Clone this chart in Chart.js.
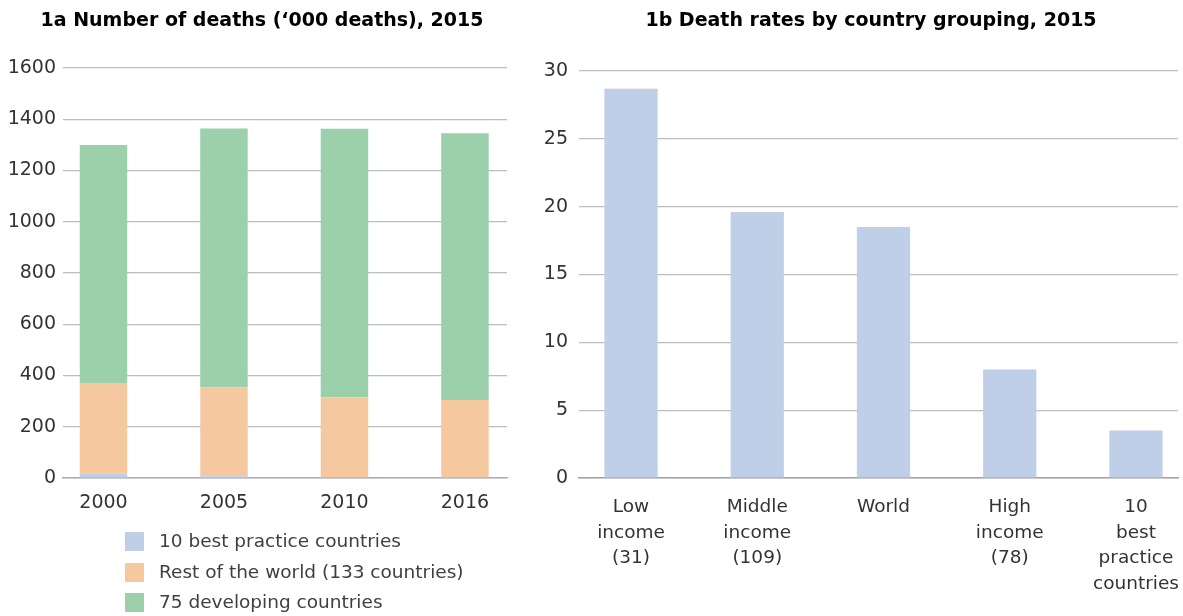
<!DOCTYPE html>
<html>
<head>
<meta charset="utf-8">
<script src="https://cdn.jsdelivr.net/npm/chart.js@4/dist/chart.umd.min.js"></script>
<style>
  html, body { margin: 0; padding: 0; background: #ffffff; }
  #wrap { position: relative; width: 1183px; height: 616px; overflow: hidden; }
  #c1 { position: absolute; left: 0; top: 0; }
  #c2 { position: absolute; left: 520px; top: 0; }
  #legend { position: absolute; left: 125px; top: 526px; font-family: "DejaVu Sans", sans-serif; font-size: 18.5px; color: #404040; }
  .li { position: relative; height: 30.5px; line-height: 30.5px; white-space: nowrap; }
  .sw { position: absolute; left: 0; top: 6px; width: 19px; height: 19px; }
  .tx { position: absolute; left: 34px; top: 0; }
</style>
</head>
<body>
<div id="wrap">
  <canvas id="c1" width="520" height="616"></canvas>
  <canvas id="c2" width="663" height="616"></canvas>
  <div id="legend"></div>
</div>
<script>
// ---- Data ----
const years = ["2000", "2005", "2010", "2016"];
const bestPractice = [17, 7, 3, 3];          // 10 best practice countries
const restOfWorld = [354, 347, 311, 301];     // Rest of the world (133 countries)
const developing = [929, 1010, 1049, 1041];   // 75 developing countries
const seriesNames = ["10 best practice countries", "Rest of the world (133 countries)", "75 developing countries"];
const deathTicks = [0, 200, 400, 600, 800, 1000, 1200, 1400, 1600];

const groups = [
  ["Low", "income", "(31)"],
  ["Middle", "income", "(109)"],
  ["World"],
  ["High", "income", "(78)"],
  ["10", "best", "practice", "countries"]
];
const deathRates = [28.7, 19.6, 18.5, 8.0, 3.5];
const rateTicks = [0, 5, 10, 15, 20, 25, 30];

// ---- Styles ----
const FONT = "DejaVu Sans";
const TXT = "#333333";
const GRID = "#bdbdbd";
const C_BLUE = "#bfcfe7";
const C_ORANGE = "#f6c8a0";
const C_GREEN = "#9bd0ab";

Chart.defaults.font.family = FONT;
Chart.defaults.color = TXT;
Chart.defaults.animation = false;

// Moves the title box horizontally (title centred between given left and the chart area's right)
const titleBox = {
  id: "titleBox",
  afterLayout(chart, args, opts) {
    if (chart.titleBlock && opts.left !== undefined) {
      chart.titleBlock.left = opts.left;
      chart.titleBlock.right = chart.chartArea.right;
    }
  }
};

const toXY = arr => arr.map((v, i) => ({ x: i, y: v }));
const onlyIdx = scale => { scale.ticks = scale.ticks.filter(t => Number.isInteger(t.value)); };
const xFit = s => { s.height = 138; s.paddingLeft = 0; s.paddingRight = 0; };

// ---- Chart 1a ----
const chart1 = new Chart(document.getElementById("c1"), {
  type: "bar",
  plugins: [titleBox],
  data: {
    datasets: [
      { label: seriesNames[0], data: toXY(bestPractice), backgroundColor: C_BLUE },
      { label: seriesNames[1], data: toXY(restOfWorld), backgroundColor: C_ORANGE },
      { label: seriesNames[2], data: toXY(developing), backgroundColor: C_GREEN }
    ]
  },
  options: {
    responsive: false,
    layout: { padding: { left: 0, right: 13, top: 0, bottom: 0 } },
    datasets: { bar: { categoryPercentage: 1, barPercentage: 0.394 } },
    plugins: {
      titleBox: { left: 17 },
      legend: { display: false },
      tooltip: { enabled: false },
      title: {
        display: true,
        text: "1a Number of deaths (\u2018000 deaths), 2015",
        font: { family: FONT, size: 19, weight: "bold", lineHeight: 1.2 },
        color: "#000000",
        padding: { top: 10, bottom: 35.2 }
      }
    },
    scales: {
      x: {
        type: "linear",
        offset: false,
        stacked: true,
        min: -0.336,
        max: 3.349,
        afterBuildTicks: onlyIdx,
        afterFit: xFit,
        grid: { display: false, drawTicks: false, offset: false },
        border: { display: true, color: "#a9aeb8", width: 1.5 },
        ticks: {
          stepSize: 1,
          includeBounds: false,
          autoSkip: false,
          maxRotation: 0,
          padding: 14,
          color: TXT,
          font: { family: FONT, size: 19 },
          callback: v => years[v]
        }
      },
      y: {
        stacked: true,
        min: 0,
        max: 1600,
        afterBuildTicks: s => { s.ticks = deathTicks.map(v => ({ value: v })); },
        afterFit: s => { s.width = 63; },
        grid: { color: GRID, lineWidth: 1.2, drawTicks: false },
        border: { display: false },
        ticks: { padding: 7, color: TXT, font: { family: FONT, size: 19 }, callback: v => String(v) }
      }
    }
  }
});

// HTML legend built from the chart's own legend labels
(function () {
  const items = chart1.options.plugins.legend.labels.generateLabels(chart1);
  const box = document.getElementById("legend");
  items.forEach(it => {
    const row = document.createElement("div");
    row.className = "li";
    const sw = document.createElement("span");
    sw.className = "sw";
    sw.style.background = it.fillStyle;
    const tx = document.createElement("span");
    tx.className = "tx";
    tx.textContent = it.text;
    row.appendChild(sw);
    row.appendChild(tx);
    box.appendChild(row);
  });
})();

// ---- Chart 1b ----
new Chart(document.getElementById("c2"), {
  type: "bar",
  plugins: [titleBox],
  data: {
    datasets: [
      { label: "Death rate", data: toXY(deathRates), backgroundColor: C_BLUE }
    ]
  },
  options: {
    responsive: false,
    layout: { padding: { left: 0, right: 5, top: 0, bottom: 0 } },
    datasets: { bar: { categoryPercentage: 1, barPercentage: 0.422 } },
    plugins: {
      titleBox: { left: 44 },
      legend: { display: false },
      tooltip: { enabled: false },
      title: {
        display: true,
        text: "1b Death rates by country grouping, 2015",
        font: { family: FONT, size: 19, weight: "bold", lineHeight: 1.2 },
        color: "#000000",
        padding: { top: 10, bottom: 38.2 }
      }
    },
    scales: {
      x: {
        type: "linear",
        offset: false,
        min: -0.412,
        max: 4.333,
        afterBuildTicks: onlyIdx,
        afterFit: xFit,
        grid: { display: false, drawTicks: false, offset: false },
        border: { display: true, color: "#a3a3a3", width: 1.5 },
        ticks: {
          stepSize: 1,
          includeBounds: false,
          autoSkip: false,
          maxRotation: 0,
          padding: 17,
          color: TXT,
          font: { family: FONT, size: 18.5, lineHeight: 1.37 },
          callback: v => groups[v]
        }
      },
      y: {
        min: 0,
        max: 30,
        afterBuildTicks: s => { s.ticks = rateTicks.map(v => ({ value: v })); },
        afterFit: s => { s.width = 59; },
        grid: { color: GRID, lineWidth: 1.2, drawTicks: false },
        border: { display: false },
        ticks: { padding: 11, color: TXT, font: { family: FONT, size: 19 }, callback: v => String(v) }
      }
    }
  }
});
</script>
</body>
</html>
